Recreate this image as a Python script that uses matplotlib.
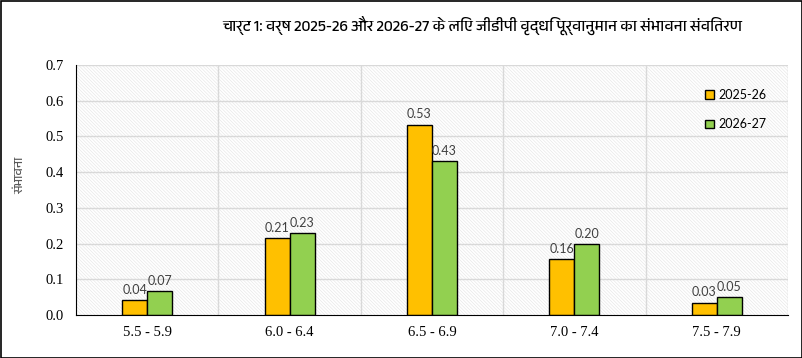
import matplotlib
matplotlib.use("Agg")
import matplotlib.pyplot as plt
from matplotlib import font_manager
from matplotlib.patches import Rectangle
import numpy as np

categories = ["5.5 - 5.9", "6.0 - 6.4", "6.5 - 6.9", "7.0 - 7.4", "7.5 - 7.9"]
series_names = ["2025-26", "2026-27"]
vals_2025 = [0.042, 0.215, 0.533, 0.156, 0.035]
vals_2026 = [0.066, 0.229, 0.431, 0.198, 0.050]
labels_2025 = ["0.04", "0.21", "0.53", "0.16", "0.03"]
labels_2026 = ["0.07", "0.23", "0.43", "0.20", "0.05"]
yticks = [0.0, 0.1, 0.2, 0.3, 0.4, 0.5, 0.6, 0.7]
title = "चार्ट 1: वर्ष 2025-26 और 2026-27 के लिए जीडीपी वृद्धि पूर्वानुमान का संभावना संवितरण"
ylabel = "संभावना"

# find a Devanagari-capable font if installed
deva = []
for f in font_manager.fontManager.ttflist:
    n = f.name
    if any(k in n for k in ["Devanagari", "Lohit", "Mukta", "Hind", "Mangal", "Kalimati", "Gargi", "Nirmala"]):
        if n not in deva:
            deva.append(n)
title_fam = deva + ["Noto Sans", "DejaVu Sans"]

plt.rcParams['hatch.linewidth'] = 0.5

fig = plt.figure(figsize=(8.03, 3.58), dpi=100)
ax = fig.add_axes([76/803, 1-315/358, (788-76)/803, (315-65)/358])

x = np.arange(len(categories))
w = 0.176
c1, c2 = "#FFC000", "#92D050"

ax.set_xlim(-0.5, 4.5)
ax.set_ylim(0, 0.7)

# hatched background
ax.add_patch(Rectangle((0, 0), 1, 1, transform=ax.transAxes, facecolor="white",
                       edgecolor="#e8e8e8", hatch="\\" * 10, linewidth=0, zorder=0))
for yv in yticks[1:]:
    ax.axhline(yv, color="#d9d9d9", linewidth=1.0, zorder=1)
for xv in np.arange(0.5, 4.6, 1.0):
    ax.axvline(xv, color="#d9d9d9", linewidth=1.0, zorder=1)

b1 = ax.bar(x - w/2, vals_2025, w, color=c1, edgecolor="black", linewidth=1.0, zorder=3, label=series_names[0])
b2 = ax.bar(x + w/2, vals_2026, w, color=c2, edgecolor="black", linewidth=1.0, zorder=3, label=series_names[1])

lab_font = dict(family=["Lato", "DejaVu Sans"], fontsize=9, color="#404040", zorder=4)
for xi, v, t in zip(x, vals_2025, labels_2025):
    ax.text(xi - w/2, v + 0.012, t, ha="center", va="bottom", **lab_font)
for xi, v, t in zip(x, vals_2026, labels_2026):
    ax.text(xi + w/2, v + 0.012, t, ha="center", va="bottom", **lab_font)

ax.set_yticks(yticks)
ax.set_yticklabels([f"{v:.1f}" for v in yticks], fontfamily="Liberation Serif", fontsize=10.5)
ax.set_xticks(x)
ax.set_xticklabels(categories, fontfamily="Liberation Serif", fontsize=10.5)
ax.tick_params(axis="both", length=0, pad=8)
ax.tick_params(axis="y", pad=22)
for lab in ax.get_yticklabels():
    lab.set_horizontalalignment("left")

for s in ["top", "right"]:
    ax.spines[s].set_visible(False)
ax.spines["left"].set_color("black")
ax.spines["bottom"].set_color("black")
ax.spines["left"].set_zorder(5)
ax.spines["bottom"].set_zorder(5)

leg = ax.legend(loc="upper right", bbox_to_anchor=(0.985, 0.95), frameon=False,
                prop={"family": ["Lato", "DejaVu Sans"], "size": 9}, labelspacing=1.4,
                handlelength=0.7, handleheight=0.7, handletextpad=0.3)

fig.text(20/803, 1-175/358, ylabel, rotation=90, ha="center", va="center",
         fontsize=9, color="#595959", family=title_fam)
fig.text(482/803, 1-25/358, title, ha="center", va="center", fontsize=11.2,
         fontweight="bold", family=title_fam, color="black")

# outer border
fig.add_artist(Rectangle((0.5/803, 0.5/358), 1-1/803, 1-1/358, transform=fig.transFigure,
                         fill=False, edgecolor="black", linewidth=1.2))

fig.savefig("out.png", dpi=100)
